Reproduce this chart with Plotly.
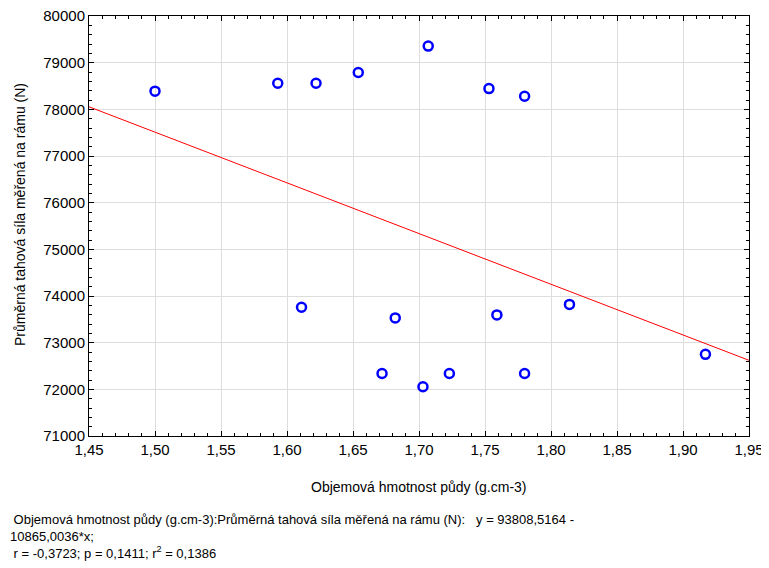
import plotly.graph_objects as go

# bulk density (g.cm-3) vs mean draught force on the frame (N)
hmotnost = [1.500, 1.593, 1.622, 1.654, 1.707, 1.753, 1.780, 1.611,
            1.682, 1.672, 1.703, 1.723, 1.759, 1.780, 1.814, 1.917]
sila = [78390, 78560, 78560, 78790, 79355, 78445, 78280, 73760,
        73530, 72340, 72055, 72340, 73595, 72340, 73820, 72750]

# regression y = a + b*x  (from the statistics text)
a = 93808.5164
b = -10865.0036
x_rng = [1.45, 1.95]
y_fit = [a + b * v for v in x_rng]

font = "Liberation Sans, Arial, sans-serif"

# page has an 8px body margin; figure is 761x560 drawn at (8,8)
OFF = 8
FW, FH = 769 - OFF, 568 - OFF
# plot area in page pixels: x 89..749, y 16..436
L, T, W, H = 89 - OFF, 16 - OFF, 660, 420
def px(x):
    return (x - OFF - L) / W
def py(y):
    return (T + H - (y - OFF)) / H

fig = go.Figure()
fig.add_trace(go.Scatter(x=x_rng, y=y_fit, mode="lines",
                         line=dict(color="#ff0000", width=1), hoverinfo="skip"))
fig.add_trace(go.Scatter(x=hmotnost, y=sila, mode="markers",
                         marker=dict(symbol="circle-open", size=9, color="#0000ff",
                                     line=dict(width=2.5, color="#0000ff"))))

fig.update_xaxes(range=[1.45, 1.95], dtick=0.05, tick0=1.45, tickformat=".2f",
                 showline=True, linecolor="black", linewidth=1, mirror="allticks",
                 ticks="inside", ticklen=5, tickcolor="black", ticklabeloverflow="allow",
                 minor=dict(dtick=0.01, ticks="inside", ticklen=3, tickcolor="black", showgrid=False),
                 showgrid=True, gridcolor="#dddddd", zeroline=False, automargin=False,
                 tickfont=dict(size=15, color="black"))
fig.update_yaxes(range=[71000, 80000], dtick=1000, tickformat="d",
                 showline=True, linecolor="black", linewidth=1, mirror="allticks",
                 ticks="inside", ticklen=5, tickcolor="black", ticklabeloverflow="allow",
                 minor=dict(dtick=200, ticks="inside", ticklen=3, tickcolor="black", showgrid=False),
                 showgrid=True, gridcolor="#dddddd", zeroline=False, automargin=False,
                 tickfont=dict(size=15, color="black"))

# axis titles
fig.add_annotation(text="Objemová hmotnost půdy (g.cm-3)", xref="paper", yref="paper",
                   x=px(419), y=py(487), xanchor="center", yanchor="middle", showarrow=False,
                   font=dict(family=font, size=14, color="black"))
fig.add_annotation(text="Průměrná tahová síla měřená na rámu (N)", xref="paper", yref="paper",
                   x=px(20), y=py(215), xanchor="center", yanchor="middle", textangle=-90,
                   showarrow=False, font=dict(family=font, size=14, color="black"))

fig.add_annotation(
    text=(" Objemová hmotnost půdy (g.cm-3):Průměrná tahová síla měřená na rámu (N):   y = 93808,5164 - <br>"
          "10865,0036*x;<br> r = -0,3723; p = 0,1411; r<sup>2</sup> = 0,1386"),
    xref="paper", yref="paper", x=px(8), y=py(510), xanchor="left", yanchor="top",
    align="left", showarrow=False, font=dict(family=font, size=13, color="black"))

fig.update_layout(width=FW, height=FH, margin=dict(l=L, r=FW - L - W, t=T, b=FH - T - H),
                  paper_bgcolor="white", plot_bgcolor="white", showlegend=False,
                  separators=", ", font=dict(family=font, color="black"))

fig.write_html("out.html")
